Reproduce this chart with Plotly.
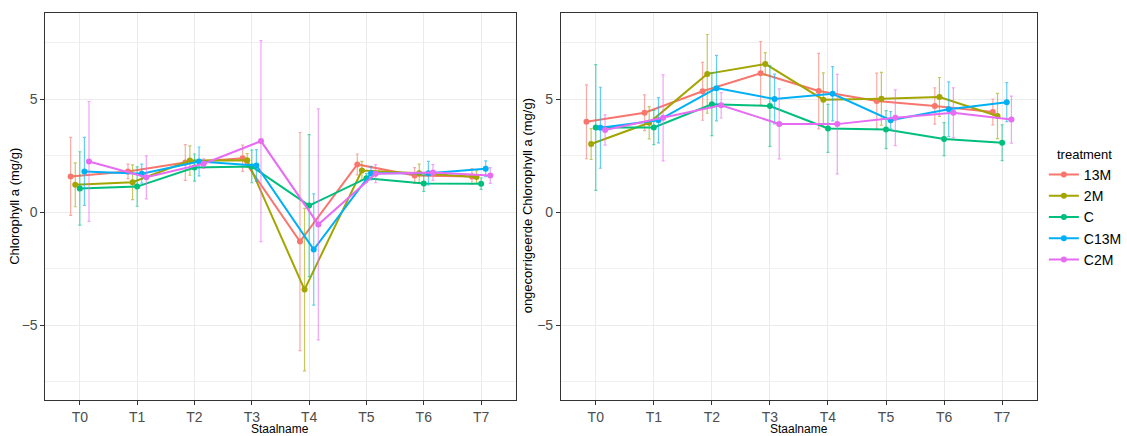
import plotly.graph_objects as go

W, H = 1127, 436

stations = ["T0", "T1", "T2", "T3", "T4", "T5", "T6", "T7"]
treatments = ["13M", "2M", "C", "C13M", "C2M"]
colors = {"13M": "#F8766D", "2M": "#A3A500", "C": "#00BF7D", "C13M": "#00B0F6", "C2M": "#E76BF3"}
bar_colors = {"13M": "rgba(248,118,109,0.62)", "2M": "rgba(163,165,0,0.62)",
              "C": "rgba(0,191,125,0.62)", "C13M": "rgba(0,176,246,0.62)",
              "C2M": "rgba(231,107,243,0.62)"}

# Chlorophyll a (mg/g): mean and error half-width per treatment
chl_mean = {
    "13M":  [1.58, 1.80, 2.19, 2.38, -1.30, 2.11, 1.62, 1.58],
    "2M":   [1.21, 1.32, 2.28, 2.29, -3.42, 1.84, 1.72, 1.55],
    "C":    [1.05, 1.13, 1.97, 2.02, 0.29, 1.50, 1.27, 1.26],
    "C13M": [1.80, 1.70, 2.24, 2.06, -1.65, 1.72, 1.72, 1.92],
    "C2M":  [2.24, 1.54, 2.14, 3.14, -0.54, 1.70, 1.75, 1.62],
}
chl_err = {
    "13M":  [1.72, 0.32, 0.79, 0.58, 4.82, 0.46, 0.35, 0.34],
    "2M":   [0.97, 0.77, 0.65, 0.30, 3.59, 0.40, 0.40, 0.28],
    "C":    [1.62, 0.87, 0.60, 0.72, 3.14, 0.20, 0.35, 0.25],
    "C13M": [1.50, 0.42, 0.64, 0.70, 2.46, 0.30, 0.52, 0.35],
    "C2M":  [2.65, 0.95, 0.21, 4.44, 5.10, 0.40, 0.35, 0.35],
}

# Uncorrected chlorophyll a (mg/g)
raw_mean = {
    "13M":  [3.99, 4.39, 5.34, 6.14, 5.35, 4.91, 4.69, 4.43],
    "2M":   [3.01, 3.95, 6.11, 6.55, 4.97, 5.01, 5.09, 4.25],
    "C":    [3.74, 3.74, 4.77, 4.69, 3.70, 3.65, 3.23, 3.07],
    "C13M": [3.73, 4.06, 5.48, 5.00, 5.23, 4.06, 4.55, 4.86],
    "C2M":  [3.63, 4.17, 4.72, 3.90, 3.89, 4.17, 4.39, 4.09],
}
raw_err = {
    "13M":  [1.63, 0.79, 1.28, 1.40, 1.67, 1.23, 0.80, 0.57],
    "2M":   [0.68, 0.71, 1.74, 0.50, 1.18, 1.17, 0.86, 1.00],
    "C":    [2.78, 0.76, 1.39, 1.78, 1.06, 0.84, 0.73, 0.79],
    "C13M": [1.79, 1.00, 1.45, 1.10, 1.20, 0.38, 1.21, 0.86],
    "C2M":  [0.67, 1.90, 0.56, 1.55, 2.20, 1.23, 1.10, 1.04],
}

DODGE = 0.4
FONT = "Liberation Sans, Arial, sans-serif"

fig = go.Figure()


def add_panel(means, errs, xa, ya, legend):
    n = len(treatments)
    for i, t in enumerate(treatments):
        off = (i - (n - 1) / 2) * DODGE / n
        xs = [k + off for k in range(len(stations))]
        fig.add_trace(go.Scatter(
            x=xs, y=means[t], mode="lines+markers", name=t,
            legendgroup=t, showlegend=legend,
            line=dict(color=colors[t], width=2),
            marker=dict(color=colors[t], size=6),
            error_y=dict(type="data", array=errs[t], visible=True,
                         color=bar_colors[t], thickness=1.2, width=1.5),
            xaxis=xa, yaxis=ya,
        ))


add_panel(chl_mean, chl_err, "x", "y", True)
add_panel(raw_mean, raw_err, "x2", "y2", False)

ydom = [1 - 400 / H, 1 - 13 / H]
grid = "#EBEBEB"
axis_common = dict(
    showline=True, linecolor="#333333", linewidth=1, mirror=True,
    ticks="outside", ticklen=4, tickcolor="#333333", tickwidth=1,
    showgrid=True, gridcolor=grid, gridwidth=1, zeroline=False,
    tickfont=dict(family=FONT, size=14, color="#4D4D4D"),
)
xaxis_common = dict(axis_common, tickvals=list(range(len(stations))),
                    ticktext=stations, range=[-0.6, 7.6])
yaxis_common = dict(axis_common, range=[-8.3, 8.8], tickvals=[-5, 0, 5],
                    minor=dict(tickvals=[-7.5, -2.5, 2.5, 7.5], showgrid=True,
                               gridcolor="#F0F0F0", gridwidth=1, ticks=""))

title_font = dict(family=FONT, size=13, color="black")
xtitle_font = dict(family=FONT, size=12, color="black")

fig.update_layout(
    width=W, height=H,
    margin=dict(l=0, r=0, t=0, b=0),
    paper_bgcolor="white", plot_bgcolor="white",
    font=dict(family=FONT, size=13, color="black"),
    xaxis=dict(xaxis_common, domain=[46 / W, 522 / W], anchor="y"),
    yaxis=dict(yaxis_common, domain=ydom, anchor="x"),
    xaxis2=dict(xaxis_common, domain=[568 / W, 1050 / W], anchor="y2"),
    yaxis2=dict(yaxis_common, domain=ydom, anchor="x2"),
    legend=dict(
        x=1057 / W, y=1 - 159 / H, xanchor="left", yanchor="top",
        font=dict(family=FONT, size=14, color="black"),
        itemwidth=30, tracegroupgap=0, bgcolor="rgba(0,0,0,0)",
    ),
    annotations=[
        dict(text="treatment", x=1068 / W, y=1 - 154 / H, xref="paper", yref="paper",
             xanchor="left", yanchor="middle", showarrow=False, font=title_font),
        dict(text="Chlorophyll a (mg/g)", x=15 / W, y=1 - 206 / H, xref="paper", yref="paper",
             xanchor="center", yanchor="middle",
             textangle=-90, showarrow=False, font=title_font),
        dict(text="ongecorrigeerde Chlorophyll a (mg/g)", x=535 / W, y=1 - 206 / H,
             xref="paper", yref="paper", xanchor="center", yanchor="middle",
             textangle=-90, showarrow=False, font=title_font),
        dict(text="Staalname", x=284 / W, y=1 - 429 / H, xref="paper", yref="paper",
             xanchor="center", yanchor="middle", showarrow=False, font=xtitle_font),
        dict(text="Staalname", x=809 / W, y=1 - 429 / H, xref="paper", yref="paper",
             xanchor="center", yanchor="middle", showarrow=False, font=xtitle_font),
    ],
)

fig.write_html("out.html")
